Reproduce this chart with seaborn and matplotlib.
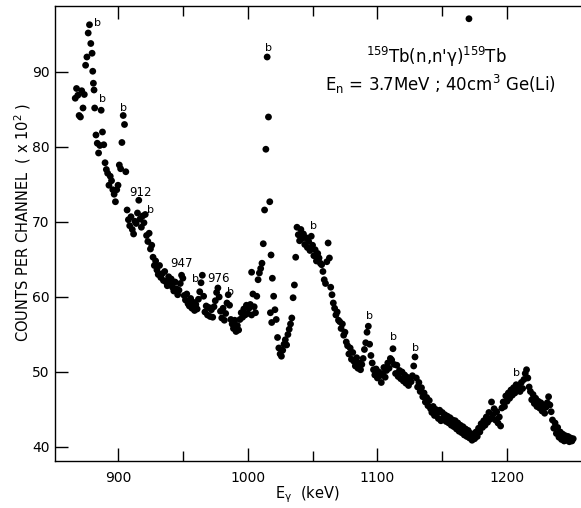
import numpy as np
import pandas as pd
import matplotlib
matplotlib.use("Agg")
import matplotlib.pyplot as plt
import seaborn as sns
from matplotlib.ticker import FixedLocator

# ---- data ----
E_START = 867.0   # keV, first channel
E_STEP = 1.0      # keV per channel
counts = [
    86.5, 87.8, 86.9, 84.2, 84.0, 87.5, 85.2, 87.0, 90.9, 92.0,
    95.2, 96.3, 93.8, 92.5, 88.5, 85.2, 81.6, 80.5, 79.2, 80.2,
    84.9, 82.0, 80.3, 77.9, 77.0, 76.5, 74.9, 76.1, 75.5, 74.3,
    73.7, 72.7, 74.3, 74.9, 77.6, 77.1, 80.6, 84.2, 83.0, 76.7,
    71.6, 70.3, 69.5, 70.7, 69.0, 68.4, 70.1, 69.8, 71.2, 72.9,
    70.4, 69.3, 70.8, 69.9, 71.0, 68.2, 67.4, 68.5, 66.4, 66.9,
    65.3, 64.2, 64.8, 63.6, 63.0, 64.2, 62.6, 63.1, 62.2, 63.4,
    62.0, 61.5, 62.7, 61.9, 62.4, 61.3, 60.8, 62.0, 61.1, 60.3,
    60.9, 61.8, 62.9, 62.5, 60.2, 59.6, 60.4, 59.1, 58.8, 59.8,
    58.5, 59.3, 58.2, 59.0, 58.4, 59.7, 60.7, 61.9, 62.9, 60.1,
    58.0, 58.8, 57.6, 58.6, 57.4, 58.3, 57.3, 58.7, 59.5, 60.6,
    61.2, 60.0, 58.1, 57.2, 58.5, 56.9, 57.8, 59.2, 60.3, 58.9,
    57.0, 56.4, 55.8, 56.9, 55.4, 56.2, 55.6, 57.0, 57.9, 57.3,
    58.4, 57.6, 58.9, 57.8, 58.5, 59.0, 57.6, 60.4, 58.7, 57.9,
    60.1, 62.3, 63.2, 63.8, 64.5, 67.1, 71.6, 79.7, 92.0, 84.0,
    72.7, 65.6, 62.5, 60.1, 58.3, 57.0, 54.6, 53.2, 52.4, 52.1,
    52.9, 53.7, 54.3, 53.6, 55.0, 55.7, 56.4, 57.2, 59.9, 61.6,
    65.3, 69.3, 68.3, 67.5, 69.0, 67.8, 68.4, 67.0, 67.9, 66.6,
    67.4, 66.2, 68.1, 66.9, 65.5, 66.3, 64.8, 65.8, 65.2, 64.5,
    64.3, 63.4, 62.3, 61.8, 64.7, 67.2, 65.2, 61.3, 60.3, 59.2,
    58.5, 57.6, 58.0, 56.9, 56.7, 55.8, 56.4, 54.9, 55.3, 54.0,
    53.5, 52.4, 53.2, 51.7, 52.6, 51.4, 50.8, 51.9, 50.5, 51.2,
    50.3, 51.0, 51.8, 53.0, 53.9, 55.3, 56.1, 53.7, 52.2, 51.2,
    50.3, 49.6, 50.4, 49.2, 50.0, 49.5, 48.6, 49.8, 50.6, 49.3,
    50.2, 51.2, 50.5, 51.8, 51.6, 53.1, 51.0, 49.8, 50.9, 49.4,
    50.2, 49.1, 50.0, 48.8, 49.6, 48.5, 49.3, 48.2, 49.0, 48.7,
    49.5, 50.8, 52.0, 49.2, 48.0, 48.6, 47.4, 47.9, 46.7, 47.2,
    46.0, 46.6, 45.5, 46.2, 45.1, 44.6, 45.4, 44.2, 45.0, 44.5,
    43.8, 44.9, 43.5, 44.6, 43.9, 44.3, 43.4, 44.1, 43.2, 43.9,
    42.9, 43.6, 42.7, 43.5, 42.4, 43.2, 42.1, 42.9, 41.9, 42.7,
    41.6, 42.4, 41.4, 42.2, 41.2, 41.8, 40.9, 41.6, 41.1, 42.0,
    41.4, 42.5, 42.0, 43.1, 42.6, 43.5, 42.9, 44.0, 43.3, 44.6,
    43.7, 46.0, 44.3, 45.1, 43.6, 44.7, 43.2, 44.0, 42.8, 45.2,
    46.0, 45.4, 46.8, 46.1, 47.2, 46.5, 47.6, 46.9, 47.9, 47.2,
    48.3, 47.5, 48.0, 47.4, 48.6, 47.8, 49.0, 49.8, 50.3, 49.2,
    48.0, 47.4, 46.3, 47.0, 45.8, 46.5, 45.4, 46.1, 45.2, 45.9,
    44.8, 45.6, 44.5, 45.3, 45.9, 46.7, 45.6, 44.7, 43.6, 42.5,
    43.2, 41.8, 42.6, 41.3, 42.0, 41.0, 41.7, 40.8, 41.5, 40.9,
    41.4, 40.7, 41.2, 40.8, 41.1,
]
# a few off-band points read individually
extra_energy = [880.5, 881.5, 1003.0, 1017.5, 1018.5, 1170.6]
extra_counts = [90.1, 87.6, 63.3, 57.9, 56.6, 97.1]

# "b" marks and line energies (label positions)
b_energy = [884.0, 888.2, 904.6, 925.2, 959.4, 986.9, 1015.9, 1050.6, 1093.8, 1112.8, 1129.0, 1206.9]
b_counts = [96.5, 86.4, 85.2, 71.6, 62.4, 60.6, 93.2, 69.5, 57.5, 54.6, 53.2, 49.9]
line_labels = ["912", "947", "976"]
line_energy = [917.0, 949.1, 977.3]
line_counts = [73.9, 64.5, 62.4]

x_major = [900, 1000, 1100, 1200]
x_minor = [950, 1050, 1150]
y_major = [40, 50, 60, 70, 80, 90]

# ---- figure ----
sns.set_theme(style="ticks")
plt.rcParams['font.family'] = ['DejaVu Sans']
plt.rcParams['mathtext.default'] = 'regular'
plt.rcParams['text.color'] = 'black'
plt.rcParams['axes.labelcolor'] = 'black'
plt.rcParams['xtick.color'] = 'black'
plt.rcParams['ytick.color'] = 'black'

W, H = 581, 508
fig = plt.figure(figsize=(W / 100, H / 100), dpi=100)
ax = fig.add_axes([55 / W, 1 - 461 / H, (W - 55) / W, (461 - 6) / H])

energy = E_START + E_STEP * np.arange(len(counts))
df = pd.DataFrame({
    "E": np.concatenate([energy, np.array(extra_energy)]),
    "C": np.concatenate([np.array(counts), np.array(extra_counts)]),
})
sns.scatterplot(data=df, x="E", y="C", s=24, color="black", edgecolor="none",
                linewidth=0, ax=ax, legend=False)

ax.set_xlim(851.4, 1257)
ax.set_ylim(38.13, 98.8)

ax.xaxis.set_major_locator(FixedLocator(x_major))
ax.xaxis.set_minor_locator(FixedLocator(x_minor))
ax.yaxis.set_major_locator(FixedLocator(y_major))
ax.tick_params(axis='x', which='both', direction='in', top=True, bottom=True, colors='black')
ax.tick_params(axis='x', which='major', length=9.5, width=1.0, labelsize=10, pad=7)
ax.tick_params(axis='x', which='minor', length=7.5, width=1.0)
ax.tick_params(axis='y', which='major', direction='in', length=9, width=1.0,
               labelsize=10, pad=4, left=True, right=False, colors='black')
for s in ['left', 'bottom', 'top']:
    ax.spines[s].set_linewidth(1.0)
    ax.spines[s].set_color('black')
ax.spines['right'].set_visible(False)

ax.set_xlabel(r"E$_\gamma$  (keV)", fontsize=10.5, color='black')
ax.set_ylabel(r"COUNTS PER CHANNEL  ( x 10$^2$ )", fontsize=10.5, color='black')
ax.xaxis.set_label_coords((307 - 55) / (W - 55), (461 - 484) / (461 - 6))
ax.yaxis.set_label_coords((33 - 55) / (W - 55), (461 - 222) / (461 - 6))

for e, c in zip(b_energy, b_counts):
    ax.text(e, c, "b", fontsize=8, ha='center', va='center', color='black')
for t, e, c in zip(line_labels, line_energy, line_counts):
    ax.text(e, c, t, fontsize=8.5, ha='center', va='center', color='black')

fig.text(436 / W, 1 - 57 / H, r"$^{159}$Tb(n,n'$\gamma$)$^{159}$Tb",
         fontsize=12, ha='center', va='center', color='black')
fig.text(440 / W, 1 - 84 / H, r"E$_{\rm n}$ = 3.7MeV ; 40cm$^3$ Ge(Li)",
         fontsize=12, ha='center', va='center', color='black')

fig.savefig("out.png", dpi=100, facecolor='white')
